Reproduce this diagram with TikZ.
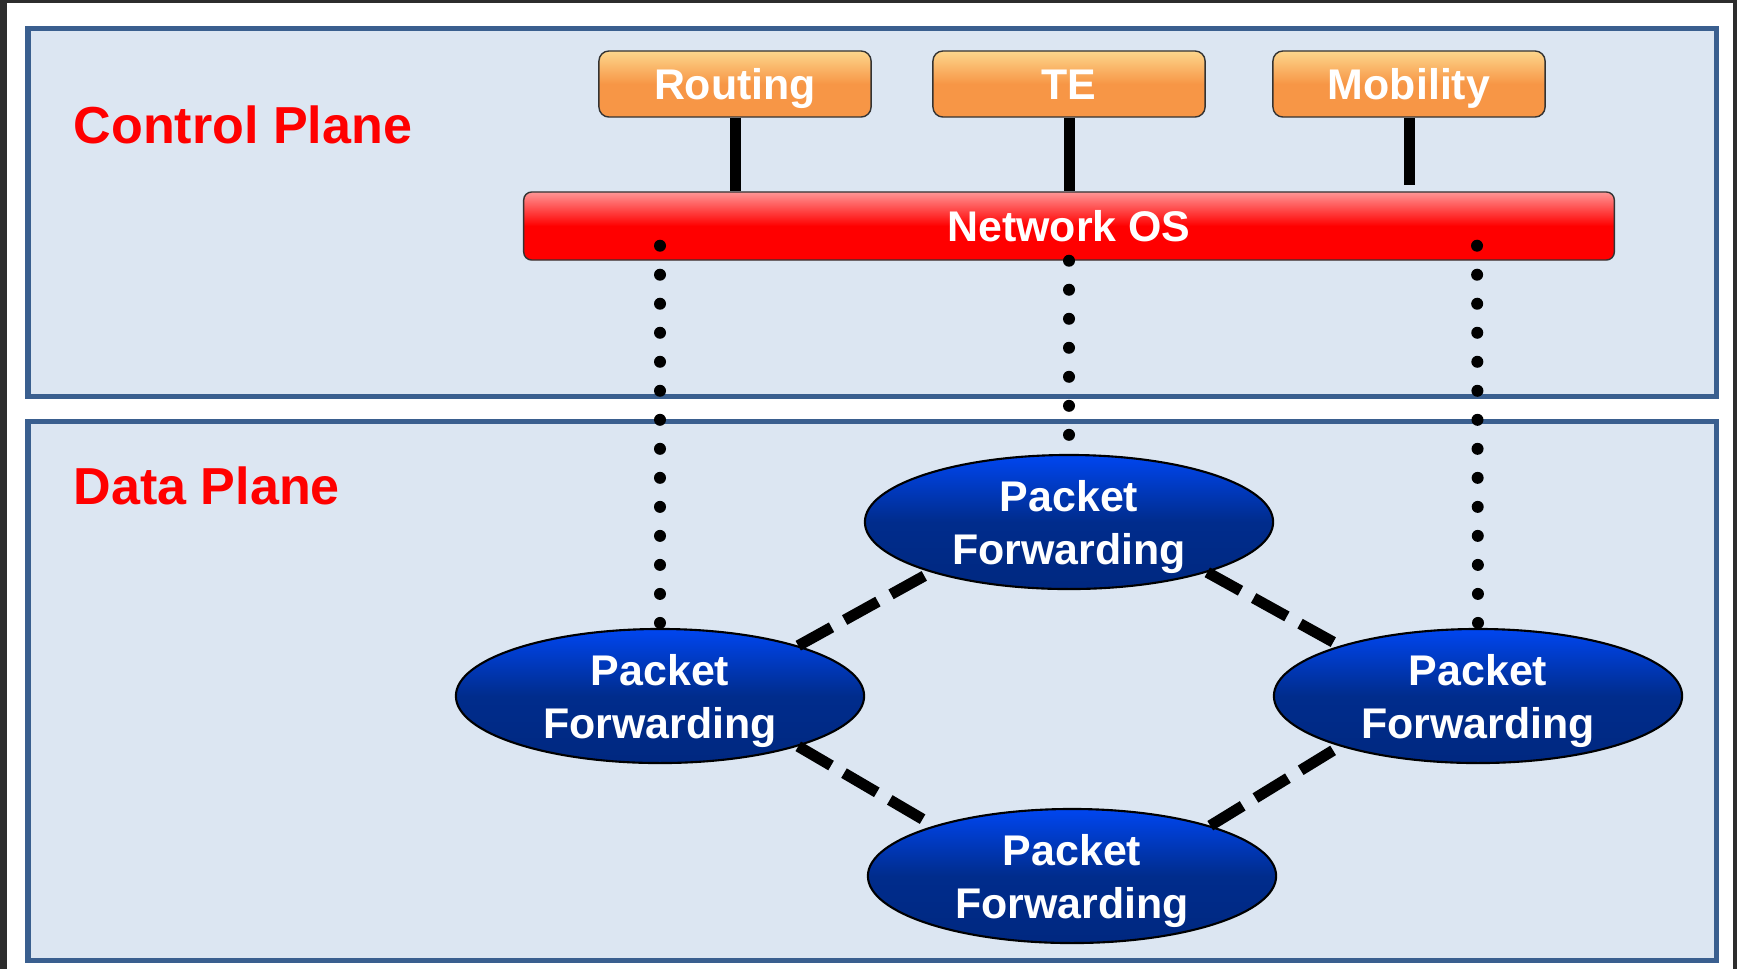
\documentclass[tikz,border=0pt]{standalone}
\usepackage{fontspec}
\setmainfont{Liberation Sans}
\usetikzlibrary{shapes.geometric}

\definecolor{planefill}{RGB}{220,230,242}
\definecolor{planeline}{RGB}{58,95,143}
\definecolor{labelred}{RGB}{255,0,0}
\definecolor{apptop}{RGB}{253,214,140}
\definecolor{appbody}{RGB}{247,150,70}
\definecolor{ostop}{RGB}{255,150,150}
\definecolor{pftop}{RGB}{0,70,240}
\definecolor{pfmid}{RGB}{0,44,140}
\definecolor{pfbot}{RGB}{0,40,128}
\definecolor{framedark}{RGB}{45,45,45}

\tikzset{
  plane/.style={fill=planefill,draw=planeline,line width=0.05cm},
  planelabel/.style={anchor=base west,inner sep=0pt,text=labelred,
    font=\fontsize{14.8}{18}\selectfont\bfseries},
  app/.style={draw=black!80,line width=0.4pt,rounded corners=0.1cm,
    top color=apptop,bottom color=appbody,middle color=appbody,
    minimum width=2.72cm,minimum height=0.66cm,inner sep=0pt,text=white,
    text height=8.7pt,text depth=0pt,
    font=\fontsize{12.2}{15}\selectfont\bfseries},
  netos/.style={draw=black!80,line width=0.4pt,rounded corners=0.08cm,
    top color=ostop,bottom color=red,middle color=red,
    minimum width=10.9cm,minimum height=0.68cm,inner sep=0pt,text=white,
    text height=8.7pt,text depth=0pt,
    font=\fontsize{12.2}{15}\selectfont\bfseries},
  fwd/.style={ellipse,draw=black,line width=0.6pt,
    top color=pftop,bottom color=pfbot,middle color=pfmid,
    minimum width=4.08cm,minimum height=1.34cm,inner sep=0pt,
    text=white,align=center,text depth=0pt,
    font=\fontsize{12.2}{15.1}\selectfont\bfseries},
  stem/.style={line width=0.11cm},
  ctrl/.style={line width=0.12cm,line cap=round,dash pattern=on 0pt off 0.29cm},
  link/.style={line width=0.11cm,dash pattern=on 0.38cm off 0.15cm}
}

\begin{document}
\begin{tikzpicture}[x=0.01cm,y=-0.01cm]

% Frame
\useasboundingbox (0,0) rectangle (1737,969);
\fill[white] (0,0) rectangle (1737,969);
\fill[framedark] (0,0) rectangle (7,969);
\fill[framedark] (0,0) rectangle (1737,3);
\fill[framedark] (1733,0) rectangle (1737,969);

% Planes
\draw[plane] (28,28) rectangle (1716,396);
\draw[plane] (28,421) rectangle (1716,960);

\node[planelabel] (cpl) at (73,143) {Control Plane};
\node[planelabel] (dpl) at (73,504) {Data Plane};

% Control plane
\node[app] (rt) at (735,84) {Routing};
\node[app] (te) at (1069,84) {TE};
\node[app] (mob) at (1409,84) {Mobility};

\node[netos] (nos) at (1069,226) {Network OS};

\draw[stem] (rt) -- (rt |- nos.north);
\draw[stem] (te) -- (te |- nos.north);
\draw[stem,shorten >=0.06cm] (mob) -- (mob |- nos.north);

% Data plane
\node[fwd] (pfT) at (1069,522) {Packet\\Forwarding};
\node[fwd] (pfL) at (660,696) {Packet\\Forwarding};
\node[fwd] (pfR) at (1478,696) {Packet\\Forwarding};
\node[fwd] (pfB) at (1072,876) {Packet\\Forwarding};

\draw[link] (pfL.20) -- (pfT.200);
\draw[link] (pfT.340) -- (pfR.160);
\draw[link] (pfL.340) -- (pfB.160);
\draw[link] (pfB.20) -- (pfR.200);

% Control channels
\coordinate (osL) at (660,238);
\coordinate (osR) at (1477,238);

\draw[ctrl] ([yshift=0.05cm]pfL.north) -- (osL);
\draw[ctrl] (nos.south) -- (pfT.north);
\draw[ctrl] ([yshift=0.05cm]pfR.north) -- (osR);

\end{tikzpicture}
\end{document}
